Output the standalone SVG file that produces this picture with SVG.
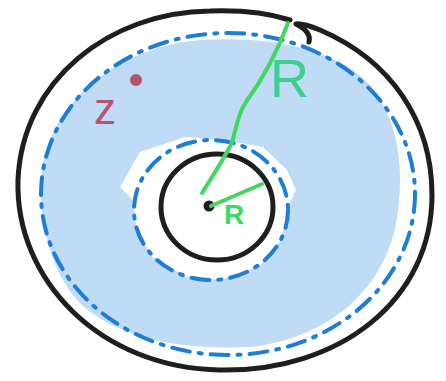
<svg xmlns="http://www.w3.org/2000/svg" width="446" height="381" viewBox="0 0 446 381">
<style>
.blk{fill:none;stroke:#1e1e1e;stroke-width:5;stroke-linecap:round;stroke-linejoin:round}
.dd{fill:none;stroke:#1c7ed6;stroke-width:4;stroke-linecap:round;stroke-dasharray:18 9 3 9}
.grn{fill:none;stroke:#40d860;stroke-width:4;stroke-linecap:round;stroke-linejoin:round}
.lbl{font-family:"Liberation Sans",Arial,sans-serif}
</style>
<rect width="446" height="381" fill="#ffffff"/>
<g id="fill">
<path fill="#c0dbf5" fill-rule="evenodd" d="M41,180 C45,110 110,48 200,40 C270,36 330,48 365,80 C395,110 405,160 398,210 C392,270 350,330 260,346 C190,352 120,340 82,305 C55,278 40,235 41,180 Z M120,187 L140,152 L185,137 L230,141 L263,147 L287,170 L296,190 L288,207 L281,240 L260,266 L220,280 L187,277 L153,258 L137,233 L133,200 Z"/>
</g>
<g id="outer-circle"><path class="blk" d="M290,20 C265,12 240,10 210,11 C110,12 22,80 18,180 C15,280 100,368 220,370 C340,372 432,300 432,195 C432,120 390,60 320,30 C310,26 300,23 296,24 C304,28 311,34 309,42"/></g>
<g id="outer-dashed"><ellipse class="dd" cx="228" cy="194" rx="187" ry="161"/></g>
<g id="inner-circle"><ellipse class="blk" cx="217" cy="207" rx="56" ry="53"/></g>
<g id="inner-dashed"><ellipse class="dd" cx="211" cy="210" rx="77" ry="70"/></g>
<g id="center"><circle cx="209" cy="206" r="5.5" fill="#1e1e1e"/></g>
<g id="point-z">
<circle cx="136" cy="80" r="6" fill="#b5566f"/>
<text class="lbl" x="94" y="124" font-size="44" fill="#b5566f">z</text>
</g>
<g id="connectors">
<path class="grn" d="M288,23 C278,50 262,80 246,102 C234,120 236,140 228,150 C220,165 210,180 202,193"/>
<path class="grn" d="M211,206 L262,184"/>
</g>
<g id="labels">
<text class="lbl" x="270" y="97" font-size="54" fill="#3ccf8e">R</text>
<text class="lbl" x="224" y="224" font-size="28" fill="#40d860" font-weight="bold">R</text>
</g>
</svg>
